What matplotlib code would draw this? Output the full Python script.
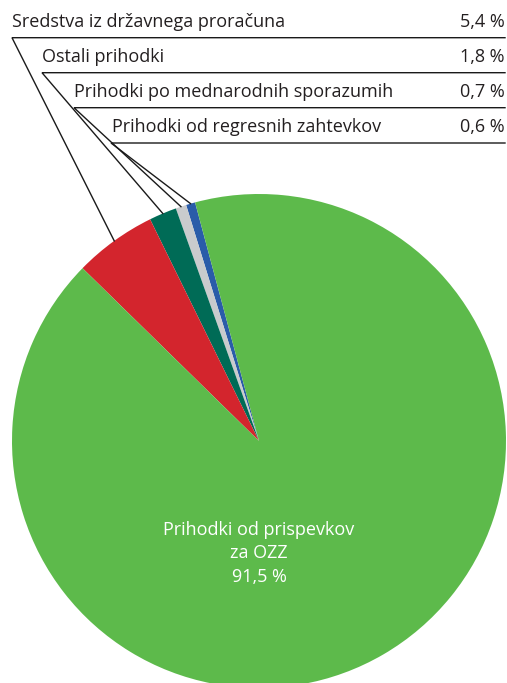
import matplotlib
matplotlib.use("Agg")
import matplotlib.pyplot as plt
import numpy as np

plt.rcParams['font.family'] = ['Open Sans', 'DejaVu Sans']

# Revenue shares (%)
labels = ["Sredstva iz državnega proračuna", "Ostali prihodki",
          "Prihodki po mednarodnih sporazumih", "Prihodki od regresnih zahtevkov"]
value_text = ["5,4 %", "1,8 %", "0,7 %", "0,6 %"]
small_shares = [5.4, 1.8, 0.7, 0.6]
small_colors = ["#d3252d", "#006b56", "#c9cbcd", "#2a5ca9"]
main_label = "Prihodki od prispevkov\nza OZZ\n91,5 %"
main_share = 91.5
main_color = "#5dba4b"

W, H = 507, 683
fig = plt.figure(figsize=(W / 100, H / 100), dpi=100)
ax = fig.add_axes([0, 0, 1, 1])

cx, cy, r = 259, H - 441, 247

# Counter-clockwise from the start angle: the small shares (last to first), then the main share
shares = small_shares[::-1] + [main_share]
colors = small_colors[::-1] + [main_color]
wedges, _ = ax.pie(shares, colors=colors, startangle=105, counterclock=True,
                   center=(cx, cy), radius=r,
                   wedgeprops=dict(linewidth=0, antialiased=True))
ax.set_xlim(0, W)
ax.set_ylim(0, H)
ax.set_aspect('equal')
ax.axis('off')

small_wedges = wedges[:4][::-1]  # aligned with labels order

line_x = [12, 42, 74, 111]
line_y = [37.7, 72.7, 107.7, 143.0]
x_right = 505
for lab, vt, w, x0, y0 in zip(labels, value_text, small_wedges, line_x, line_y):
    yy = H - y0
    ang = np.deg2rad((w.theta1 + w.theta2) / 2)
    ex, ey = cx + r * np.cos(ang), cy + r * np.sin(ang)
    ax.plot([x_right, x0, ex], [yy, yy, ey], color="#1a1a1a", lw=1.0,
            solid_joinstyle='miter', zorder=3)
    ax.text(x0 + 0.5, yy + 10.5, lab, fontsize=13, color="#231f20",
            ha='left', va='baseline')
    ax.text(x_right, yy + 10.5, vt, fontsize=13, color="#231f20",
            ha='right', va='baseline')

ax.text(cx, H - 582, main_label, fontsize=13, color="white",
        ha='center', va='baseline', linespacing=1.4)

fig.savefig("out.png", dpi=100)
